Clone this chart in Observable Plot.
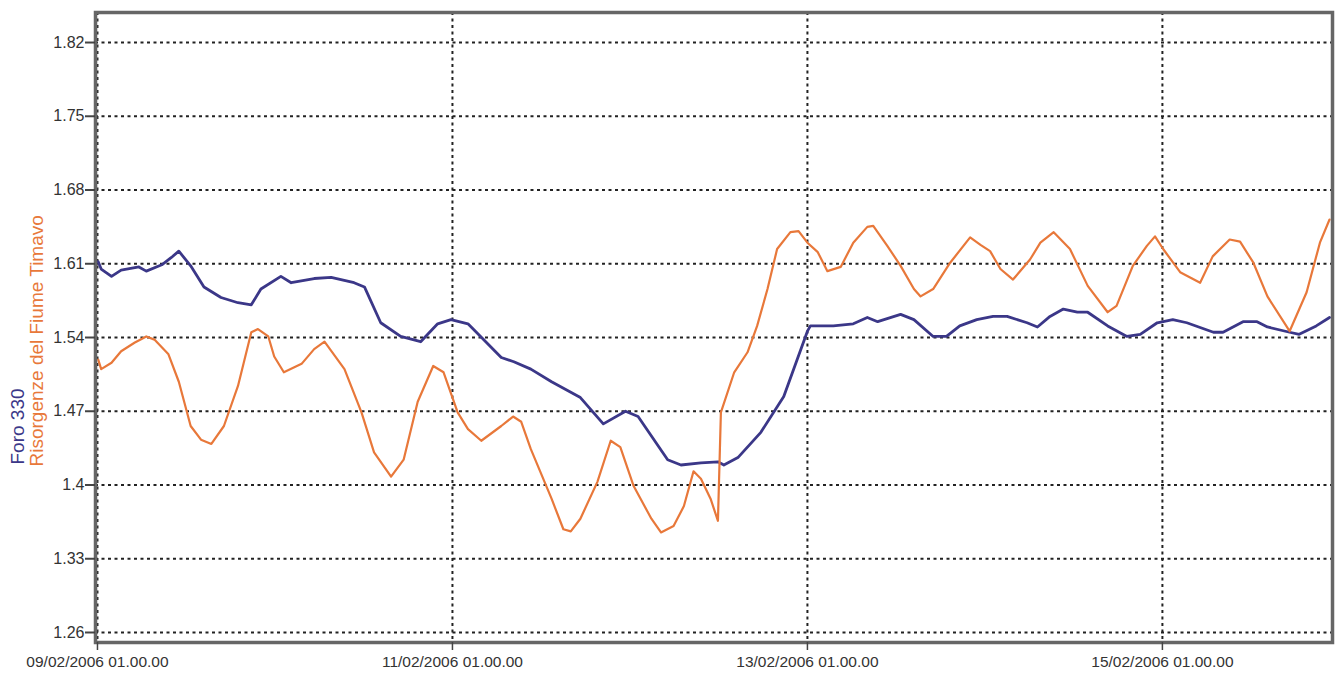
<!DOCTYPE html>
<html>
<head>
<meta charset="utf-8">
<script src="https://cdn.jsdelivr.net/npm/d3@7"></script>
<script src="https://cdn.jsdelivr.net/npm/@observablehq/plot@0.6"></script>
<style>
  html, body { margin: 0; padding: 0; background: #fff; }
  #chart { width: 1335px; height: 673px; }
</style>
</head>
<body>
<div id="chart"></div>
<script>
// Hours after 09/02/2006 01.00.00 and measured levels
const foroHours = [0.1, 0.5, 1.9, 3.2, 5.6, 6.6, 8.7, 10.0, 11.0, 12.6, 14.4, 16.7, 19.0, 20.8, 22.1, 24.8, 26.2, 29.3, 31.6, 34.7, 36.1, 38.3, 41.0, 43.7, 46.0, 47.8, 50.1, 51.8, 54.6, 56.3, 58.6, 61.4, 65.3, 68.4, 71.4, 73.1, 77.1, 78.9, 81.6, 83.9, 84.7, 86.6, 89.7, 92.8, 96.0, 96.4, 99.5, 102.2, 104.1, 105.5, 108.6, 110.4, 113.0, 114.8, 116.6, 118.9, 121.1, 123.0, 125.7, 127.1, 128.8, 130.6, 132.5, 133.9, 136.6, 139.2, 141.0, 143.3, 145.4, 147.3, 150.9, 152.2, 154.9, 156.8, 158.2, 161.2, 162.5, 164.8, 166.6];
const foroValues = [1.612, 1.605, 1.598, 1.604, 1.607, 1.603, 1.609, 1.616, 1.622, 1.608, 1.588, 1.578, 1.573, 1.571, 1.586, 1.598, 1.592, 1.596, 1.597, 1.592, 1.588, 1.554, 1.541, 1.536, 1.553, 1.557, 1.553, 1.541, 1.521, 1.517, 1.510, 1.498, 1.483, 1.458, 1.470, 1.465, 1.424, 1.419, 1.421, 1.422, 1.419, 1.426, 1.450, 1.484, 1.546, 1.551, 1.551, 1.553, 1.559, 1.555, 1.562, 1.557, 1.541, 1.541, 1.551, 1.557, 1.560, 1.560, 1.554, 1.550, 1.560, 1.567, 1.564, 1.564, 1.551, 1.541, 1.543, 1.554, 1.557, 1.554, 1.545, 1.545, 1.555, 1.555, 1.550, 1.545, 1.543, 1.551, 1.559];

const timavoHours = [0.1, 0.5, 1.9, 3.2, 5.0, 6.6, 7.7, 9.6, 11.0, 12.6, 14.0, 15.4, 17.1, 19.0, 20.8, 21.7, 23.1, 23.9, 25.2, 27.6, 29.3, 30.7, 33.4, 35.7, 37.4, 39.7, 41.4, 43.3, 45.4, 46.8, 48.7, 50.1, 51.9, 54.6, 56.2, 57.3, 58.6, 61.4, 63.0, 64.0, 65.3, 67.6, 69.4, 70.7, 72.5, 74.9, 76.2, 77.9, 79.3, 80.6, 81.6, 82.9, 83.9, 84.3, 86.1, 87.9, 89.2, 90.6, 91.9, 93.7, 94.8, 96.0, 97.4, 98.7, 100.5, 102.2, 104.1, 104.9, 106.8, 108.6, 110.4, 111.3, 113.0, 115.3, 118.0, 119.4, 120.7, 122.1, 123.8, 126.1, 127.5, 129.3, 131.5, 133.9, 136.6, 137.8, 140.0, 141.9, 143.0, 144.1, 146.4, 149.1, 150.8, 153.1, 154.5, 156.3, 158.2, 161.2, 163.5, 165.3, 166.6];
const timavoValues = [1.519, 1.510, 1.516, 1.527, 1.535, 1.541, 1.538, 1.524, 1.498, 1.456, 1.443, 1.439, 1.456, 1.494, 1.545, 1.548, 1.541, 1.522, 1.507, 1.515, 1.529, 1.536, 1.510, 1.469, 1.431, 1.408, 1.424, 1.479, 1.513, 1.507, 1.469, 1.453, 1.442, 1.456, 1.465, 1.460, 1.434, 1.387, 1.358, 1.356, 1.368, 1.403, 1.442, 1.436, 1.399, 1.368, 1.355, 1.361, 1.380, 1.413, 1.406, 1.387, 1.366, 1.469, 1.507, 1.526, 1.551, 1.586, 1.624, 1.640, 1.641, 1.630, 1.621, 1.603, 1.607, 1.630, 1.645, 1.646, 1.627, 1.608, 1.586, 1.579, 1.586, 1.611, 1.635, 1.628, 1.622, 1.605, 1.595, 1.614, 1.630, 1.640, 1.624, 1.589, 1.564, 1.570, 1.608, 1.627, 1.636, 1.624, 1.602, 1.592, 1.617, 1.633, 1.631, 1.611, 1.579, 1.546, 1.583, 1.630, 1.652];

const yTicks = [1.26, 1.33, 1.4, 1.47, 1.54, 1.61, 1.68, 1.75, 1.82];
const xTickDays = [9, 11, 13, 15];
const seriesNames = ["Foro 330", "Risorgenze del Fiume Timavo"];
const seriesColors = ["#3b3788", "#e8783a"];

const start = Date.UTC(2006, 1, 9, 1, 0, 0);
const toDate = h => new Date(start + h * 3600e3);
const foro = foroHours.map((h, i) => ({t: toDate(h), v: foroValues[i]}));
const timavo = timavoHours.map((h, i) => ({t: toDate(h), v: timavoValues[i]}));
const xTicks = xTickDays.map(d => new Date(Date.UTC(2006, 1, d, 1, 0, 0)));
const pad = n => String(n).padStart(2, "0");
const fmtDate = d => `${pad(d.getUTCDate())}/${pad(d.getUTCMonth() + 1)}/${d.getUTCFullYear()} ${pad(d.getUTCHours())}.${pad(d.getUTCMinutes())}.${pad(d.getUTCSeconds())}`;

const font = "'Liberation Sans', Arial, sans-serif";

const chart = Plot.plot({
  width: 1335,
  height: 673,
  marginLeft: 95,
  marginRight: 3,
  marginTop: 12,
  marginBottom: 31,
  style: {fontFamily: font, fontSize: "14px", background: "#fff", overflow: "visible"},
  x: {type: "utc", domain: [new Date(Date.UTC(2006, 1, 9, 0, 44)), new Date(Date.UTC(2006, 1, 16, 0, 0))]},
  y: {domain: [1.2505, 1.8485]},
  marks: [
    Plot.gridY(yTicks, {stroke: "#222", strokeOpacity: 1, strokeWidth: 2, strokeDasharray: "3,3.5"}),
    Plot.gridX(xTicks, {stroke: "#222", strokeOpacity: 1, strokeWidth: 2, strokeDasharray: "3,3.5"}),
    Plot.line(foro, {x: "t", y: "v", stroke: seriesColors[0], strokeWidth: 2.8}),
    Plot.line(timavo, {x: "t", y: "v", stroke: seriesColors[1], strokeWidth: 2.2}),
    Plot.frame({stroke: "#666", strokeWidth: 3.5}),
    Plot.axisY(yTicks, {tickSize: 10, tickPadding: 1, stroke: "#444", strokeWidth: 2, fill: "#333", fontSize: 16, label: null,
      tickFormat: d => String(+d.toFixed(2))}),
    Plot.axisX(xTicks, {tickSize: 8, tickPadding: 5, stroke: "#444", strokeWidth: 1.5, fill: "#333", fontSize: 15.5, label: null,
      tickFormat: fmtDate}),
    Plot.text([seriesNames[0]], {text: d => d, frameAnchor: "bottom-left", dx: -72, dy: -178, rotate: -90,
      textAnchor: "start", fill: seriesColors[0], fontSize: 19}),
    Plot.text([seriesNames[1]], {text: d => d, frameAnchor: "bottom-left", dx: -53, dy: -176, rotate: -90,
      textAnchor: "start", fill: seriesColors[1], fontSize: 19})
  ]
});
document.getElementById("chart").appendChild(chart);
</script>
</body>
</html>
